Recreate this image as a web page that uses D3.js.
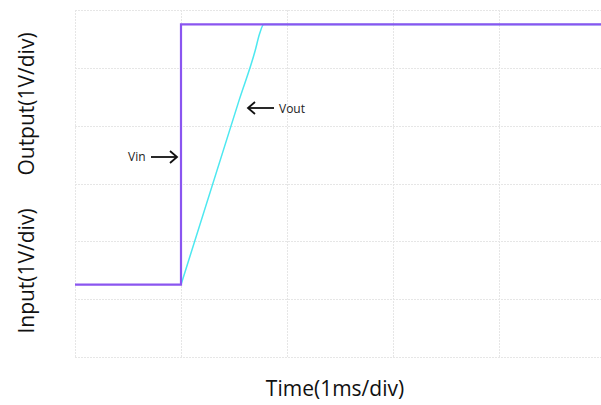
<!DOCTYPE html>
<html>
<head>
<meta charset="utf-8">
<script src="https://cdn.jsdelivr.net/npm/d3@7"></script>
<style>
html,body{margin:0;padding:0;background:#fff;}
svg{display:block;font-family:"Open Sans","Liberation Sans",Arial,sans-serif;}
</style>
</head>
<body>
<svg id="chart" width="601" height="405"></svg>
<script>
// time in divisions (1 ms/div), voltage in divisions (1 V/div)
const vinTime = [0, 1.0, 1.0, 5.0];
const vinValue = [1.25, 1.25, 5.75, 5.75];
const voutTime = [1.0, 1.55, 1.7, 1.74, 1.78, 5.0];
const voutValue = [1.25, 4.45, 5.3, 5.58, 5.75, 5.75];
const xGrid = [0, 1, 2, 3, 4, 5];
const yGrid = [0, 1, 2, 3, 4, 5, 6];
const xTitle = "Time(1ms/div)";
const yTitleTop = "Output(1V/div)";
const yTitleBottom = "Input(1V/div)";

const svg = d3.select("#chart");
const x = d3.scaleLinear().domain([0, 5]).range([75, 605]);
const y = d3.scaleLinear().domain([0, 6]).range([357, 10]);

const plot = svg.append("g");

// grid
const grid = plot.append("g").attr("stroke", "#e6e6e6").attr("stroke-width", 1).attr("stroke-dasharray", "2,1");
grid.selectAll(".vx").data(xGrid).join("line")
  .attr("x1", d => x(d) + 0.5).attr("x2", d => x(d) + 0.5)
  .attr("y1", y(6)).attr("y2", y(0));
grid.selectAll(".hy").data(yGrid).join("line")
  .attr("y1", d => Math.round(y(d)) + 0.5).attr("y2", d => Math.round(y(d)) + 0.5)
  .attr("x1", x(0)).attr("x2", 601);

const line = d3.line().x(d => x(d[0])).y(d => y(d[1]));

plot.append("path")
  .datum(voutTime.map((t, i) => [t, voutValue[i]]))
  .attr("fill", "none").attr("stroke", "#4de8f0").attr("stroke-width", 1.5)
  .attr("d", d3.line().x(d => x(d[0])).y(d => y(d[1])).curve(d3.curveMonotoneX));

plot.append("path")
  .datum(vinTime.map((t, i) => [t, vinValue[i]]))
  .attr("fill", "none").attr("stroke", "#8a55f0").attr("stroke-width", 2.2)
  .attr("d", line);

// annotations
function arrow(x1, x2, yy) {
  const g = svg.append("g").attr("stroke", "#111").attr("fill", "none").attr("stroke-width", 1.8);
  g.append("line").attr("x1", x1).attr("x2", x2).attr("y1", yy).attr("y2", yy);
  const dir = x2 > x1 ? -1 : 1;
  g.append("path").attr("d", `M${x2 + dir * 7},${yy - 6} L${x2},${yy} L${x2 + dir * 7},${yy + 6}`)
    .attr("stroke-linejoin", "miter");
}
svg.append("text").attr("x", 128).attr("y", 161).attr("font-size", 12).attr("fill", "#222").text("Vin");
arrow(151, 177, 157);
svg.append("text").attr("x", 279).attr("y", 113).attr("font-size", 12).attr("fill", "#222").text("Vout");
arrow(274, 248, 108);

// axis titles
svg.append("text").attr("x", 335).attr("y", 396).attr("text-anchor", "middle")
  .attr("font-size", 21).attr("fill", "#111").text(xTitle);
svg.append("text").attr("transform", "translate(34,104) rotate(-90)").attr("text-anchor", "middle")
  .attr("font-size", 21).attr("fill", "#111").text(yTitleTop);
svg.append("text").attr("transform", "translate(34,271) rotate(-90)").attr("text-anchor", "middle")
  .attr("font-size", 21).attr("fill", "#111").text(yTitleBottom);
</script>
</body>
</html>
